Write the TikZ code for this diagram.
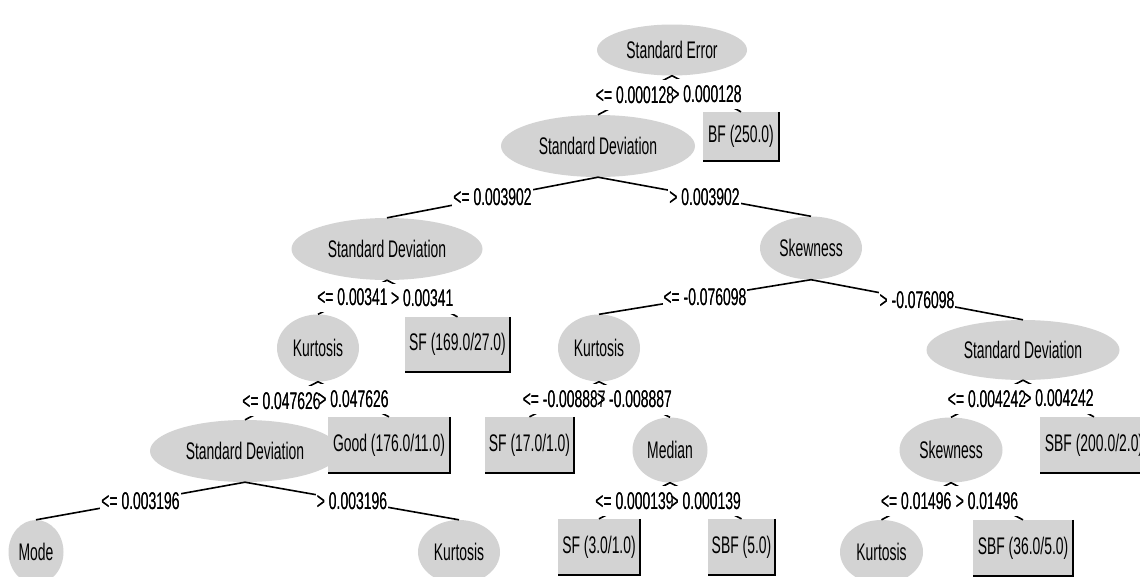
\documentclass[tikz,border=0pt]{standalone}
\usepackage{fontspec}
\setmainfont{Liberation Sans}[FakeStretch=0.58]
\usepackage{xcolor}
\usepackage{tikz}
\usetikzlibrary{shapes.geometric}

\definecolor{nodegray}{RGB}{211,211,211}

\begin{document}
\begin{tikzpicture}[x=1pt, y=-1pt,
    every node/.style={font=\fontsize{24}{26}\selectfont},
    attr/.style={ellipse, fill=nodegray, inner sep=0pt},
    leaf/.style={rectangle, fill=nodegray, inner sep=0pt},
    cond/.style={fill=white, inner xsep=1pt, inner ysep=6.5pt},
    condtext/.style={inner xsep=1pt, inner ysep=6.5pt},
    branch/.style={line width=1.6pt},
    boxshade/.style={line width=1.8pt}]
    \useasboundingbox (0,0) rectangle (1140,576);
    \clip (0,0) rectangle (1140,576);

    % attribute tests
    \node[attr, minimum width=150pt, minimum height=51pt] (se) at (672,50) {Standard Error};
    \node[attr, minimum width=194pt, minimum height=62pt] (sd1) at (598,146) {Standard Deviation};
    \node[attr, minimum width=191pt, minimum height=62pt] (sd2) at (387,249) {Standard Deviation};
    \node[attr, minimum width=102pt, minimum height=63pt] (skew1) at (811,248) {Skewness};
    \node[attr, minimum width=82pt, minimum height=67pt] (kurt1) at (318,348) {Kurtosis};
    \node[attr, minimum width=82pt, minimum height=67pt] (kurt2) at (599,348) {Kurtosis};
    \node[attr, minimum width=193pt, minimum height=60pt] (sd3) at (1023,350) {Standard Deviation};
    \node[attr, minimum width=190pt, minimum height=62pt] (sd4) at (245,451) {Standard Deviation};
    \node[attr, minimum width=75pt, minimum height=65pt] (median) at (670,450) {Median};
    \node[attr, minimum width=103pt, minimum height=65pt] (skew2) at (951,450) {Skewness};
    \node[attr, minimum width=55pt, minimum height=64pt] (mode) at (36,552) {Mode};
    \node[attr, minimum width=82pt, minimum height=64pt] (kurt3) at (459,552) {Kurtosis};
    \node[attr, minimum width=83pt, minimum height=64pt] (kurt4) at (881.5,552) {Kurtosis};

    % leaves
    \node[leaf, minimum width=76pt, minimum height=49pt] (bf) at (741,136.5) {BF (250.0)};
    \node[leaf, minimum width=105pt, minimum height=55pt] (sf169) at (457.5,344.5) {SF (169.0/27.0)};
    \node[leaf, minimum width=122pt, minimum height=56pt] (good) at (389,445) {Good (176.0/11.0)};
    \node[leaf, minimum width=89pt, minimum height=56pt] (sf17) at (529.5,445) {SF (17.0/1.0)};
    \node[leaf, minimum width=108pt, minimum height=56pt] (sbf200) at (1094,445) {SBF (200.0/2.0)};
    \node[leaf, minimum width=82pt, minimum height=56pt] (sf3) at (599,547) {SF (3.0/1.0)};
    \node[leaf, minimum width=67pt, minimum height=56pt] (sbf5) at (741.5,547) {SBF (5.0)};
    \node[leaf, minimum width=100pt, minimum height=56pt] (sbf36) at (1023,548) {SBF (36.0/5.0)};

    \foreach \b in {bf,sf169,good,sf17,sbf200,sf3,sbf5,sbf36}
        \draw[boxshade] (\b.north east) -- (\b.south east) -- (\b.south west);

    % branches
    \def\branches{se/sd1/{<= 0.000128}, se/bf/{> 0.000128},
        sd1/sd2/{<= 0.003902}, sd1/skew1/{> 0.003902},
        sd2/kurt1/{<= 0.00341}, sd2/sf169/{> 0.00341},
        skew1/kurt2/{<= -0.076098}, skew1/sd3/{> -0.076098},
        kurt1/sd4/{<= 0.047626}, kurt1/good/{> 0.047626},
        kurt2/sf17/{<= -0.008887}, kurt2/median/{> -0.008887},
        sd3/skew2/{<= 0.004242}, sd3/sbf200/{> 0.004242},
        sd4/mode/{<= 0.003196}, sd4/kurt3/{> 0.003196},
        median/sf3/{<= 0.000139}, median/sbf5/{> 0.000139},
        skew2/kurt4/{<= 0.01496}, skew2/sbf36/{> 0.01496}}
    \foreach \p/\c/\t in \branches
        \draw[branch] (\p.south) -- (\c.north) node[cond, midway] {\t};
    \foreach \p/\c/\t in \branches
        \path (\p.south) -- (\c.north) node[condtext, midway] {\t};
\end{tikzpicture}
\end{document}
